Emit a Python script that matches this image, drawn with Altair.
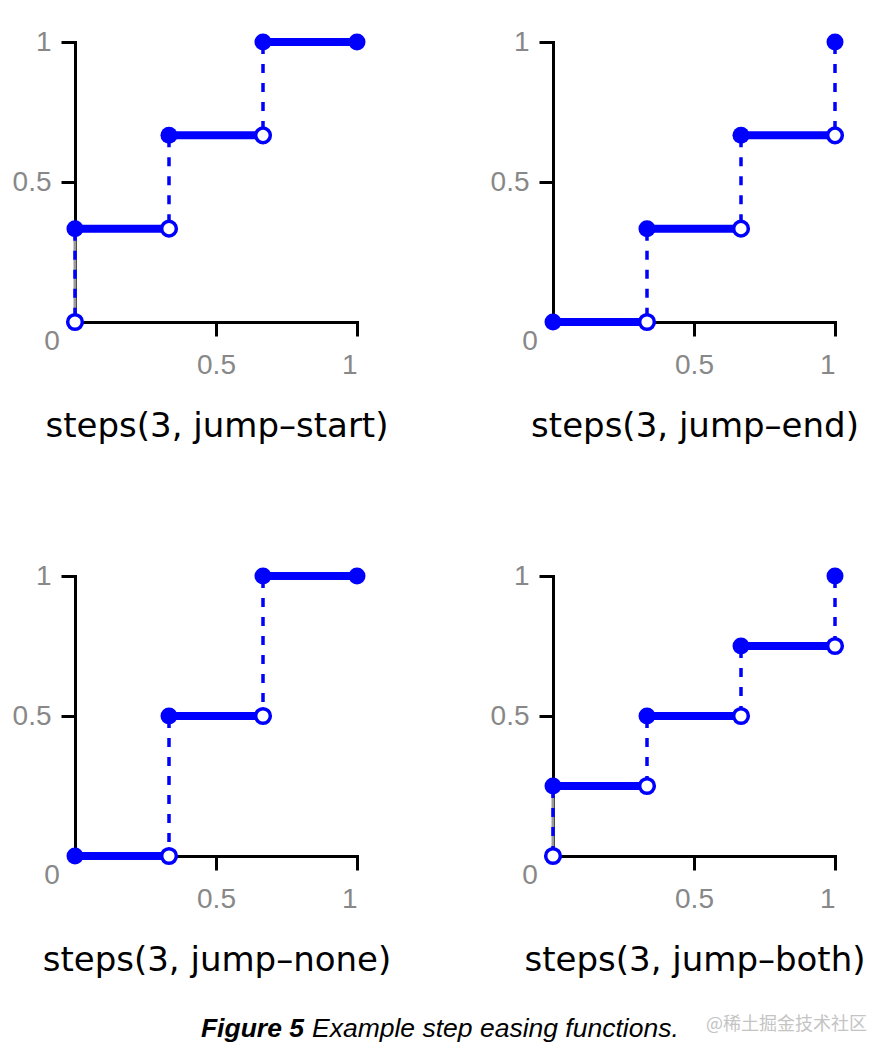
import altair as alt
import pandas as pd

# ---------------- data ----------------
PANELS = ["jump-start", "jump-end", "jump-none", "jump-both"]
TITLES = ["steps(3, jump–start)", "steps(3, jump–end)",
          "steps(3, jump–none)", "steps(3, jump–both)"]

SEG_X0 = [0, 1/3, 2/3]
SEG_X1 = [1/3, 2/3, 1]
LEVELS = {
    "jump-start": [1/3, 2/3, 1],
    "jump-end": [0, 1/3, 2/3],
    "jump-none": [0, 0.5, 1],
    "jump-both": [0.25, 0.5, 0.75],
}
FILLED_X = {
    "jump-start": [0, 1/3, 2/3, 1],
    "jump-end": [0, 1/3, 2/3, 1],
    "jump-none": [0, 1/3, 2/3, 1],
    "jump-both": [0, 1/3, 2/3, 1],
}
FILLED_Y = {
    "jump-start": [1/3, 2/3, 1, 1],
    "jump-end": [0, 1/3, 2/3, 1],
    "jump-none": [0, 0.5, 1, 1],
    "jump-both": [0.25, 0.5, 0.75, 1],
}
OPEN_X = {
    "jump-start": [0, 1/3, 2/3],
    "jump-end": [1/3, 2/3, 1],
    "jump-none": [1/3, 2/3],
    "jump-both": [0, 1/3, 2/3, 1],
}
OPEN_Y = {
    "jump-start": [0, 1/3, 2/3],
    "jump-end": [0, 1/3, 2/3],
    "jump-none": [0, 0.5],
    "jump-both": [0, 0.25, 0.5, 0.75],
}
JUMP_X = OPEN_X
JUMP_FROM = OPEN_Y
JUMP_TO = {
    "jump-start": [1/3, 2/3, 1],
    "jump-end": [1/3, 2/3, 1],
    "jump-none": [0.5, 1],
    "jump-both": [0.25, 0.5, 0.75, 1],
}
GRAY_TO = {"jump-start": 1/3, "jump-both": 0.25}

TICK_VALUES = [0.5, 1]
ORIGIN_LABEL = "0"
CAPTION_BOLD = "Figure 5"
CAPTION_REST = "Example step easing functions."
WATERMARK = "@稀土掘金技术社区"

BLUE = "#0000ff"
W, H = 282, 280
TITLE_FONT = "DejaVu Sans"
LABEL_FONT = "Liberation Sans"


def xenc(field="x"):
    return alt.X(f"{field}:Q", scale=alt.Scale(domain=[0, 1], nice=False, zero=False),
                 axis=alt.Axis(values=TICK_VALUES, format="~g", title=None, grid=False,
                               labelPadding=15))


def yenc(field="y"):
    return alt.Y(f"{field}:Q", scale=alt.Scale(domain=[0, 1], nice=False, zero=False),
                 axis=alt.Axis(values=TICK_VALUES, format="~g", title=None, grid=False,
                               labelPadding=10))


def panel(key, title, with_caption=False):
    layers = []
    if key in GRAY_TO:
        gdf = pd.DataFrame({"x": [0], "y": [0], "y2": [GRAY_TO[key]]})
        layers.append(alt.Chart(gdf).mark_rule(color="#9a9a9a", strokeWidth=3).encode(
            x=xenc(), y=yenc(), y2="y2:Q"))
    jdf = pd.DataFrame({"x": JUMP_X[key], "y": JUMP_TO[key], "y2": JUMP_FROM[key]})
    layers.append(alt.Chart(jdf).mark_rule(color=BLUE, strokeWidth=3.5, strokeDash=[9, 10],
                                           strokeDashOffset=-3).encode(
        x=xenc(), y=yenc(), y2="y2:Q"))
    sdf = pd.DataFrame({"x": SEG_X0, "x2": SEG_X1, "y": LEVELS[key]})
    layers.append(alt.Chart(sdf).mark_rule(color=BLUE, strokeWidth=8).encode(
        x=xenc(), x2="x2:Q", y=yenc()))
    odf = pd.DataFrame({"x": OPEN_X[key], "y": OPEN_Y[key]})
    layers.append(alt.Chart(odf).mark_point(shape="circle", filled=False, fill="white",
                                            fillOpacity=1, color=BLUE, strokeWidth=3.5,
                                            size=215, opacity=1).encode(
        x=xenc(), y=yenc()))
    fdf = pd.DataFrame({"x": FILLED_X[key], "y": FILLED_Y[key]})
    layers.append(alt.Chart(fdf).mark_circle(color=BLUE, size=290, opacity=1).encode(
        x=xenc(), y=yenc()))
    zdf = pd.DataFrame({"x": [0], "y": [0], "t": [ORIGIN_LABEL]})
    layers.append(alt.Chart(zdf).mark_text(font=LABEL_FONT, fontSize=28, color="#888888",
                                           dx=-23, dy=20, baseline="middle").encode(
        x=xenc(), y=yenc(), text="t:N"))
    tdf = pd.DataFrame({"t": [title]})
    layers.append(alt.Chart(tdf).mark_text(font=TITLE_FONT, fontSize=34, color="black",
                                           align="center", baseline="alphabetic").encode(
        x=alt.value(W / 2 + 1), y=alt.value(H + 115), text="t:N"))
    if with_caption:
        cdf = pd.DataFrame({"t": [CAPTION_BOLD]})
        layers.append(alt.Chart(cdf).mark_text(font="Liberation Sans", fontSize=26.5,
                                               fontStyle="italic", fontWeight="bold",
                                               color="black", align="right",
                                               baseline="alphabetic").encode(
            x=alt.value(229), y=alt.value(H + 181), text="t:N"))
        rdf = pd.DataFrame({"t": [CAPTION_REST]})
        layers.append(alt.Chart(rdf).mark_text(font="Liberation Sans", fontSize=26.5,
                                               fontStyle="italic", fontWeight="normal",
                                               color="black", align="left",
                                               baseline="alphabetic").encode(
            x=alt.value(237), y=alt.value(H + 181), text="t:N"))
        wdf = pd.DataFrame({"t": [WATERMARK]})
        layers.append(alt.Chart(wdf).mark_text(font="Noto Sans CJK SC", fontSize=18,
                                               color="#c4c4c4", align="left",
                                               baseline="alphabetic").encode(
            x=alt.value(631), y=alt.value(H + 174), text="t:N"))
    return alt.layer(*layers).properties(width=W, height=H)


p = [panel(k, t, with_caption=(i == 2)) for i, (k, t) in enumerate(zip(PANELS, TITLES))]

chart = alt.concat(*p, columns=2, spacing={"row": 254, "column": 196}, bounds="flush").properties(
    padding={"left": 4, "top": 20, "right": 5, "bottom": 5}
).configure_axis(
    domainColor="black", domainWidth=3, tickColor="black", tickWidth=3, tickSize=14,
    labelColor="#888888", labelFont=LABEL_FONT, labelFontSize=28,
    domainCap="square"
).configure_view(stroke=None)

chart.save("out.html", embed_options={"renderer": "svg", "actions": False})
